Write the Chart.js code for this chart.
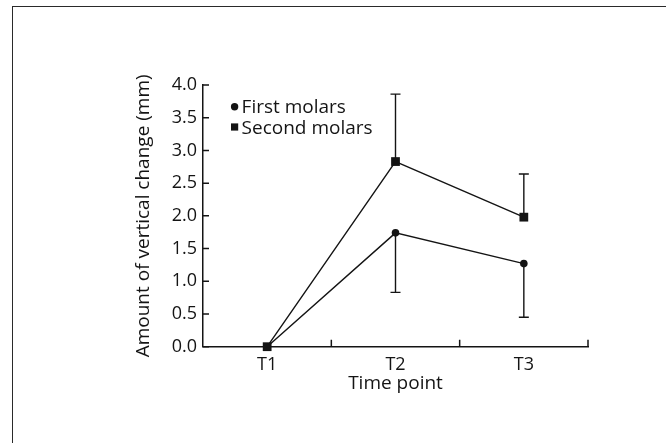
<!DOCTYPE html>
<html>
<head>
<meta charset="utf-8">
<script src="https://cdn.jsdelivr.net/npm/chart.js@4.4.1/dist/chart.umd.min.js"></script>
<style>
  html, body { margin: 0; padding: 0; background: #fff; }
  #wrap { position: relative; width: 666px; height: 443px; overflow: hidden; }
  #frame {
    position: absolute; left: 12px; top: 5.5px; right: -10px; bottom: -10px;
    border-top: 1.5px solid #2a2a2a; border-left: 1.5px solid #2a2a2a;
    pointer-events: none;
  }
</style>
</head>
<body>
<div id="wrap">
  <canvas id="chart" width="666" height="443"></canvas>
  <div id="frame"></div>
</div>
<script>
// --- datos ---
const categories = ['T1', 'T2', 'T3'];
const firstMolars = [0, 1.74, 1.27];
const secondMolars = [0, 2.83, 1.98];
const firstErrDown = [0, 0.91, 0.82];   // barras hacia abajo
const secondErrUp = [0, 1.03, 0.66];    // barras hacia arriba
const yTicks = ['0.0', '0.5', '1.0', '1.5', '2.0', '2.5', '3.0', '3.5', '4.0'];
const seriesNames = ['First molars', 'Second molars'];

const INK = '#141414';
const FAMILY = "'Open Sans', sans-serif";
const TICK_FONT = { family: FAMILY, size: 18 };
const TEXT_FONT = { family: FAMILY, size: 19 };

// barras de error + marcas hacia dentro + leyenda
const extras = {
    id: 'extras',
    beforeDatasetsDraw(chart) {
        const { ctx, scales: { x, y } } = chart;
        ctx.save();
        ctx.strokeStyle = INK;
        ctx.lineWidth = 1.4;
        const bar = (i, from, to) => {
            const px = x.getPixelForValue(i);
            const y1 = y.getPixelForValue(from);
            const y2 = y.getPixelForValue(to);
            ctx.beginPath();
            ctx.moveTo(px, y1); ctx.lineTo(px, y2);
            ctx.moveTo(px - 5, y2); ctx.lineTo(px + 5, y2);
            ctx.stroke();
        };
        categories.forEach((c, i) => {
            if (firstErrDown[i] > 0) bar(i, firstMolars[i], firstMolars[i] - firstErrDown[i]);
            if (secondErrUp[i] > 0) bar(i, secondMolars[i], secondMolars[i] + secondErrUp[i]);
        });
        ctx.restore();
    },
    afterDraw(chart) {
        const { ctx, scales: { x, y }, chartArea } = chart;
        ctx.save();
        ctx.strokeStyle = INK;
        ctx.lineWidth = 1.5;
        ctx.beginPath();
        yTicks.forEach(t => {
            const py = y.getPixelForValue(parseFloat(t));
            ctx.moveTo(chartArea.left, py); ctx.lineTo(chartArea.left + 6, py);
        });
        for (let i = 0; i < categories.length; i++) {
            const px = x.getPixelForValue(i + 0.5);
            ctx.moveTo(px, chartArea.bottom); ctx.lineTo(px, chartArea.bottom - 7);
        }
        ctx.stroke();

        // leyenda
        const lx = chartArea.left + 31.6;
        const ly = chartArea.top + 21.7;
        ctx.fillStyle = INK;
        ctx.beginPath();
        ctx.arc(lx, ly, 3.7, 0, Math.PI * 2);
        ctx.fill();
        ctx.fillRect(lx - 3.6, ly + 20.3 - 3.6, 7.2, 7.2);
        ctx.font = TEXT_FONT.size + 'px ' + FAMILY;
        ctx.textBaseline = 'alphabetic';
        ctx.textAlign = 'left';
        ctx.fillText(seriesNames[0], lx + 7, ly + 6.6);
        ctx.fillText(seriesNames[1], lx + 7, ly + 26.8);
        ctx.restore();
    }
};

new Chart(document.getElementById('chart'), {
    type: 'line',
    data: {
        labels: categories,
        datasets: [
            {
                label: seriesNames[1], data: secondMolars, order: 0,
                borderColor: INK, borderWidth: 1.4, tension: 0,
                pointStyle: 'rect', pointRadius: 6.2, pointBackgroundColor: INK, pointBorderWidth: 0,
                clip: false
            },
            {
                label: seriesNames[0], data: firstMolars, order: 1,
                borderColor: INK, borderWidth: 1.4, tension: 0,
                pointStyle: 'circle', pointRadius: 3.8, pointBackgroundColor: INK, pointBorderWidth: 0,
                clip: false
            }
        ]
    },
    options: {
        responsive: false,
        animation: false,
        layout: { padding: { left: 128, right: 78, top: 85, bottom: 44 } },
        plugins: { legend: { display: false }, tooltip: { enabled: false } },
        scales: {
            x: {
                offset: true,
                grid: { display: false, drawTicks: false, offset: true },
                border: { display: true, color: INK, width: 1.5 },
                ticks: { color: INK, font: TICK_FONT, padding: 7 },
                title: { display: true, text: 'Time point', color: INK, font: TEXT_FONT, padding: { top: 0, bottom: 4 } },
                afterFit: s => { s.height = 52.3; }
            },
            y: {
                min: 0, max: 4,
                grid: { display: false, drawTicks: false },
                border: { display: true, color: INK, width: 1.5 },
                ticks: {
                    stepSize: 0.5, color: INK, font: TICK_FONT, padding: 6,
                    callback: (v, i) => yTicks[i]
                },
                title: { display: true, text: 'Amount of vertical change (mm)', color: INK, font: TEXT_FONT, padding: { top: 4, bottom: 0 } },
                afterFit: s => { s.width = 75; }
            }
        }
    },
    plugins: [extras]
});
</script>
</body>
</html>
